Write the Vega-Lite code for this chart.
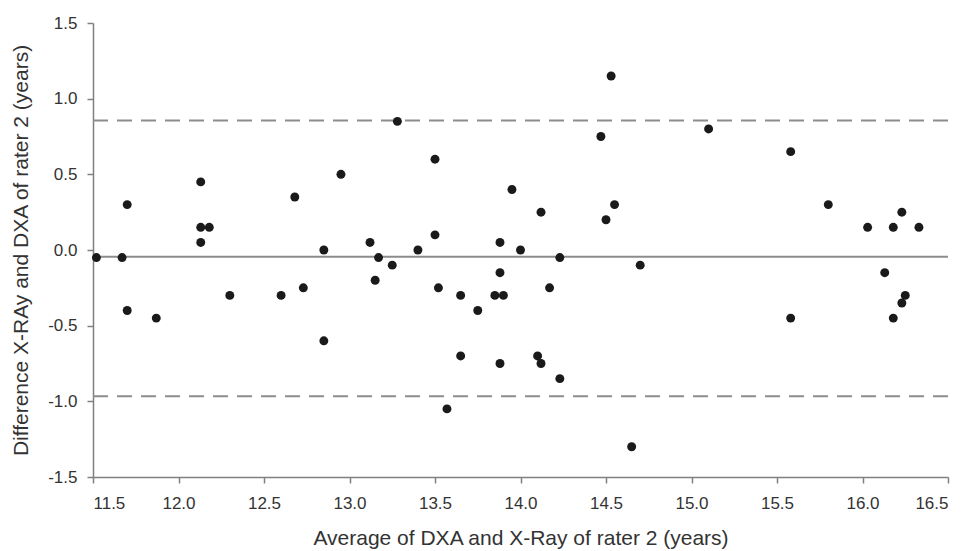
{
  "$schema": "https://vega.github.io/schema/vega-lite/v6.json",
  "width": 855,
  "height": 454,
  "autosize": {"type": "none"},
  "padding": {"left": 93, "top": 23, "right": 20, "bottom": 74},
  "background": "white",
  "config": {
    "view": {"stroke": null},
    "font": "Liberation Sans",
    "axis": {
      "grid": false,
      "domainColor": "#808080",
      "domainWidth": 1.5,
      "tickColor": "#808080",
      "tickWidth": 1.5,
      "tickSize": 6,
      "labelFont": "Liberation Sans",
      "labelFontSize": 17,
      "labelColor": "#333333",
      "titleFont": "Liberation Sans",
      "titleFontSize": 21,
      "titleFontWeight": "normal",
      "titleColor": "#333333"
    }
  },
  "datasets": {
    "points": [
      {"avg": 11.52, "diff": -0.05}, {"avg": 11.67, "diff": -0.05}, {"avg": 11.7, "diff": 0.3},
      {"avg": 11.7, "diff": -0.4}, {"avg": 11.87, "diff": -0.45}, {"avg": 12.13, "diff": 0.45},
      {"avg": 12.13, "diff": 0.15}, {"avg": 12.18, "diff": 0.15}, {"avg": 12.13, "diff": 0.05},
      {"avg": 12.3, "diff": -0.3}, {"avg": 12.6, "diff": -0.3}, {"avg": 12.68, "diff": 0.35},
      {"avg": 12.73, "diff": -0.25}, {"avg": 12.85, "diff": 0.0}, {"avg": 12.85, "diff": -0.6},
      {"avg": 12.95, "diff": 0.5}, {"avg": 13.12, "diff": 0.05}, {"avg": 13.17, "diff": -0.05},
      {"avg": 13.15, "diff": -0.2}, {"avg": 13.28, "diff": 0.85}, {"avg": 14.47, "diff": 0.75},
      {"avg": 13.5, "diff": 0.6}, {"avg": 13.95, "diff": 0.4}, {"avg": 14.12, "diff": 0.25},
      {"avg": 14.55, "diff": 0.3}, {"avg": 14.5, "diff": 0.2}, {"avg": 13.25, "diff": -0.1},
      {"avg": 13.4, "diff": 0.0}, {"avg": 13.5, "diff": 0.1}, {"avg": 13.52, "diff": -0.25},
      {"avg": 13.65, "diff": -0.3}, {"avg": 13.75, "diff": -0.4}, {"avg": 13.85, "diff": -0.3},
      {"avg": 13.9, "diff": -0.3}, {"avg": 13.88, "diff": 0.05}, {"avg": 13.88, "diff": -0.15},
      {"avg": 14.0, "diff": 0.0}, {"avg": 14.23, "diff": -0.05}, {"avg": 14.17, "diff": -0.25},
      {"avg": 14.7, "diff": -0.1}, {"avg": 13.65, "diff": -0.7}, {"avg": 13.88, "diff": -0.75},
      {"avg": 14.1, "diff": -0.7}, {"avg": 14.12, "diff": -0.75}, {"avg": 14.23, "diff": -0.85},
      {"avg": 13.57, "diff": -1.05}, {"avg": 14.65, "diff": -1.3}, {"avg": 14.53, "diff": 1.15},
      {"avg": 15.1, "diff": 0.8}, {"avg": 15.58, "diff": 0.65}, {"avg": 15.58, "diff": -0.45},
      {"avg": 15.8, "diff": 0.3}, {"avg": 16.03, "diff": 0.15}, {"avg": 16.18, "diff": 0.15},
      {"avg": 16.33, "diff": 0.15}, {"avg": 16.23, "diff": 0.25}, {"avg": 16.13, "diff": -0.15},
      {"avg": 16.25, "diff": -0.3}, {"avg": 16.23, "diff": -0.35}, {"avg": 16.18, "diff": -0.45}
    ],
    "limits": [
      {"diff": 0.855, "kind": "limit"},
      {"diff": -0.966, "kind": "limit"},
      {"diff": -0.045, "kind": "mean"}
    ]
  },
  "encoding": {
    "y": {
      "field": "diff", "type": "quantitative",
      "scale": {"domain": [-1.5, 1.5], "nice": false},
      "axis": {
        "title": "Difference X-RAy and DXA of rater 2 (years)",
        "values": [-1.5, -1, -0.5, 0, 0.5, 1, 1.5],
        "labelExpr": "replace(format(datum.value, '.1f'), '\u2212', '-')",
        "labelPadding": 10,
        "titlePadding": 16
      }
    }
  },
  "layer": [
    {
      "data": {"name": "limits"},
      "transform": [{"filter": "datum.kind === 'limit'"}],
      "mark": {"type": "rule", "color": "#8c8c8c", "strokeWidth": 2, "strokeDash": [15, 9]},
      "encoding": {}
    },
    {
      "data": {"name": "limits"},
      "transform": [{"filter": "datum.kind === 'mean'"}],
      "mark": {"type": "rule", "color": "#8c8c8c", "strokeWidth": 2},
      "encoding": {}
    },
    {
      "data": {"name": "points"},
      "mark": {"type": "circle", "size": 80, "color": "#1a1a1a", "opacity": 1},
      "encoding": {
        "x": {
          "field": "avg", "type": "quantitative",
          "scale": {"domain": [11.5, 16.5], "nice": false, "zero": false},
          "axis": {
            "title": "Average of DXA and X-Ray of rater 2 (years)",
            "values": [11.5, 12, 12.5, 13, 13.5, 14, 14.5, 15, 15.5, 16, 16.5],
            "format": ".1f",
            "labelPadding": 12,
            "titlePadding": 16
          }
        }
      }
    }
  ]
}
